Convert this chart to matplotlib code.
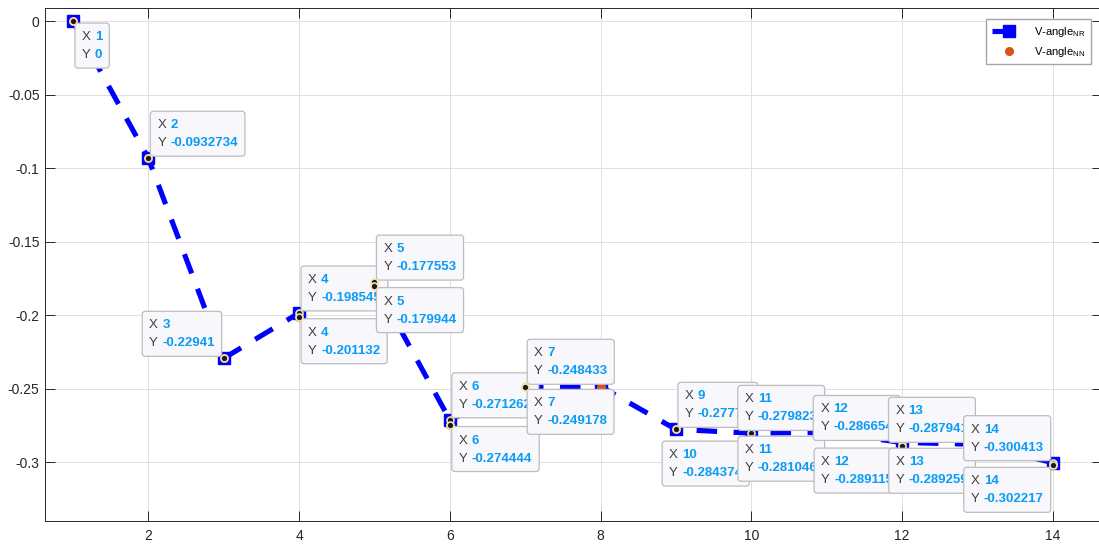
import matplotlib
matplotlib.use("Agg")
import matplotlib.pyplot as plt
import matplotlib.transforms as mtransforms
from matplotlib.patches import FancyBboxPatch
from matplotlib.ticker import FuncFormatter

plt.rcParams['font.family'] = ['Liberation Sans', 'DejaVu Sans']

# iteration index and voltage angle per solver
step = [1, 2, 3, 4, 5, 6, 7, 8, 9, 10, 11, 12, 13, 14]
v_angle_nr = [0, -0.0932734, -0.22941, -0.198545, -0.177553, -0.271262, -0.248433,
              -0.2486, -0.27774, -0.28031, -0.279823, -0.286654, -0.287941, -0.300413]
v_angle_nn = [0, -0.0932734, -0.22941, -0.201132, -0.179944, -0.274444, -0.249178,
              -0.2488, -0.27774, -0.284374, -0.281046, -0.289115, -0.289259, -0.302217]

# data tips: (step, series, corner the box sits on; None = marker only)
tips = [
    (1, 'nr', 'se'), (2, 'nr', 'ne'), (3, 'nr', 'nw'),
    (4, 'nr', 'ne'), (4, 'nn', 'se'),
    (5, 'nr', 'ne'), (5, 'nn', 'se'),
    (6, 'nr', 'ne'), (6, 'nn', 'se'),
    (7, 'nr', 'ne'), (7, 'nn', 'se'),
    (9, 'nr', 'ne'), (10, 'nr', None), (10, 'nn', 'sw'),
    (11, 'nr', 'nw'), (11, 'nn', 'sw'),
    (12, 'nr', 'nw'), (12, 'nn', 'sw'),
    (13, 'nr', 'nw'), (13, 'nn', 'sw'),
    (14, 'nr', 'nw'), (14, 'nn', 'sw'),
]
series = {'nr': v_angle_nr, 'nn': v_angle_nn}

fig = plt.figure(figsize=(10.99, 5.45), dpi=100)
ax = fig.add_axes([0.041, 0.044, 0.9615, 0.941])

ax.plot(step, v_angle_nr, color='#0000FF', lw=3.7, ls=(0, (4.0, 3.2)),
        marker='s', ms=8, mfc='#0000FF', mec='#0000FF', label=r'V-angle$\mathregular{_{NR}}$',
        zorder=3)
ax.plot(step, v_angle_nn, ls='none', marker='o', ms=5.5, color='#D95319',
        label=r'V-angle$\mathregular{_{NN}}$', zorder=4)

ax.set_xlim(0.63, 14.65)
ax.set_ylim(-0.3401, 0.0088)
ax.set_xticks([2, 4, 6, 8, 10, 12, 14])
ax.set_yticks([-0.3, -0.25, -0.2, -0.15, -0.1, -0.05, 0])
ax.yaxis.set_major_formatter(FuncFormatter(lambda v, _: f'{v:g}'))
ax.grid(True, color='#E0E0E0', lw=0.7)
ax.set_axisbelow(True)
ax.tick_params(direction='in', length=7, width=0.7, color='#262626',
               labelsize=10, labelcolor='#262626', top=True, right=True)
ax.tick_params(axis='x', pad=6)
ax.tick_params(axis='y', pad=4)
for sp in ax.spines.values():
    sp.set_color('#262626')
    sp.set_linewidth(0.7)

ax.legend(loc='upper right', bbox_to_anchor=(0.9895, 0.9786), borderaxespad=0,
          fontsize=8, frameon=True, fancybox=False, framealpha=1,
          edgecolor='#A6A6A6', handlelength=3.2, handletextpad=0.6,
          labelspacing=0.55, borderpad=0.5, numpoints=1)

renderer = fig.canvas.get_renderer()
tip_grey = '#404040'
tip_blue = '#0A9BF5'
box_h = 45
gap = 2
z = 10
for x, key, corner in tips:
    y = series[key][x - 1]
    ax.plot([x], [y], ls='none', marker='o', ms=5, mfc='#1A1A1A', mec='#F0E4B4',
            mew=1.2, zorder=z + 1, clip_on=False)
    if corner is None:
        z += 2
        continue
    # pixel offsets measured from the data point
    trans = mtransforms.IdentityTransform() + mtransforms.ScaledTranslation(x, y, ax.transData)
    xs, ys = f'{x:g}', f'{y:.6g}'
    widths = []
    texts = []
    for s in (xs, ys):
        t = ax.text(0, 0, s, transform=trans, fontsize=9.5, fontweight='bold',
                    color=tip_blue, va='center', ha='left', zorder=z + 1, clip_on=False)
        widths.append(t.get_window_extent(renderer=renderer).width)
        texts.append(t)
    box_w = 20 + max(widths) + 7
    left = gap if corner[1] == 'e' else -gap - box_w
    bottom = gap if corner[0] == 'n' else -gap - box_h
    box = FancyBboxPatch((left, bottom), box_w, box_h,
                         boxstyle='round,pad=0,rounding_size=3', transform=trans,
                         fc='#F8F8FC', ec='#BDBDBD', lw=0.9, zorder=z, clip_on=False)
    ax.add_artist(box)
    for t, lab, dy in zip(texts, ('X', 'Y'), (box_h - 14, 13)):
        t.set_position((left + 20, bottom + dy))
        ax.text(left + 7, bottom + dy, lab, transform=trans, fontsize=9.5,
                color=tip_grey, va='center', ha='left', zorder=z + 1, clip_on=False)
    z += 2

fig.savefig('out.png', dpi=100)
